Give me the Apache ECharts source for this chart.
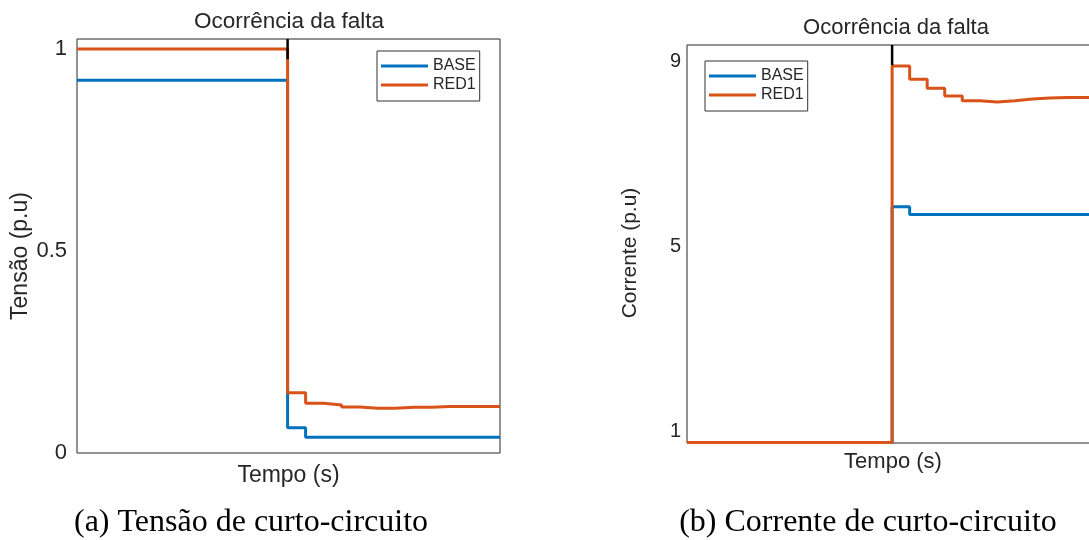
<!DOCTYPE html>
<html>
<head>
<meta charset="utf-8">
<script src="https://cdn.jsdelivr.net/npm/echarts@6/dist/echarts.min.js"></script>
<style>
html,body{margin:0;padding:0;background:#fff;overflow:hidden;}
#chart{width:1100px;height:540px;}
</style>
</head>
<body>
<div id="chart"></div>
<script>
// Sample times (ms); fault occurs at 234 ms
const timeMs = [0, 234, 254, 274, 294, 314, 334, 354, 374, 394, 414, 434, 454, 470];
// (a) Voltage (p.u)
const voltageBase = [0.923, 0.0625, 0.0388, 0.0388, 0.0388, 0.0388, 0.0388, 0.0388, 0.0388, 0.0388, 0.0388, 0.0388, 0.0388, 0.0388];
const voltageRed1 = [1.0, 0.149, 0.123, 0.119, 0.114, 0.111, 0.111, 0.1135, 0.1135, 0.115, 0.115, 0.115, 0.115, 0.115];
// (b) Current (p.u)
const currentBase = [0.77, 5.856, 5.69, 5.69, 5.69, 5.69, 5.69, 5.69, 5.69, 5.69, 5.69, 5.69, 5.69, 5.69];
const currentRed1 = [0.77, 8.89, 8.605, 8.41, 8.245, 8.143, 8.115, 8.143, 8.18, 8.20, 8.21, 8.21, 8.21, 8.21];
// Fault marker (short black segment at fault time, from axis top downward)
const faultTime = 234;
const faultMarkV = [1.025, 0.975];
const faultMarkI = [9.345, 8.91];
// Axis ranges and tick labels
const vRange = [0, 1.025];
const iRange = [0.76, 9.345];
const tRange = [0, 470];
const vTicks = [0, 0.5, 1];
const iTicks = [1, 5, 9];
const seriesNames = ['BASE', 'RED1'];
const titleText = 'Ocorrência da falta';
const captionA = '(a) Tensão de curto-circuito';
const captionB = '(b) Corrente de curto-circuito';

const BLUE = '#0072BD', ORANGE = '#D95319', TXT = '#262626';
const SANS = 'Liberation Sans, Arial, sans-serif';
const SERIF = 'Liberation Serif, Times New Roman, serif';

const pairs = (xs, ys) => xs.map((x, i) => [x, ys[i]]);

function xAxisCfg(idx, gap, fs) {
  return {
    gridIndex: idx, type: 'value', min: tRange[0], max: tRange[1],
    axisLine: {show: false}, axisTick: {show: false}, axisLabel: {show: false}, splitLine: {show: false},
    name: 'Tempo (s)', nameLocation: 'middle', nameGap: gap,
    nameTextStyle: {fontFamily: SANS, fontSize: fs, color: TXT}
  };
}
function yAxisCfg(idx, range, ticks, name, gap, fs, margin, shift) {
  return {
    gridIndex: idx, type: 'value', min: range[0], max: range[1],
    axisLine: {show: false}, axisTick: {show: false}, splitLine: {show: false},
    axisLabel: {customValues: ticks, fontFamily: SANS, fontSize: fs, color: TXT, margin: margin,
      showMinLabel: true, showMaxLabel: true},
    name: name, nameLocation: 'middle', nameGap: gap,
    nameTextStyle: {fontFamily: SANS, fontSize: fs + 1, color: TXT, padding: [0, shift, 0, 0]}
  };
}
function lineSeries(name, xi, data, color) {
  return {
    name: name, type: 'line', step: 'end', xAxisIndex: xi, yAxisIndex: xi,
    data: data, showSymbol: false, symbol: 'none', lineStyle: {width: 3, color: color},
    itemStyle: {color: color}, animation: false
  };
}
function markSeries(xi, ys) {
  return {
    name: 'falta', type: 'line', xAxisIndex: xi, yAxisIndex: xi,
    data: [[faultTime, ys[0]], [faultTime, ys[1]]], showSymbol: false, symbol: 'none',
    lineStyle: {width: 2.5, color: '#000'}, animation: false, z: 5
  };
}
function legendCfg(left, top) {
  return {
    data: seriesNames, left: left, top: top, orient: 'vertical',
    icon: 'rect', itemWidth: 47, itemHeight: 3, itemGap: 3,
    padding: [7, 4, 8, 4], backgroundColor: '#fff', borderColor: '#333', borderWidth: 1,
    textStyle: {fontFamily: SANS, fontSize: 16, lineHeight: 16, color: TXT}
  };
}

const chart = echarts.init(document.getElementById('chart'), null, {renderer: 'canvas', width: 1100, height: 540});
chart.setOption({
  animation: false,
  backgroundColor: '#fff',
  grid: [
    {left: 77, top: 39, width: 423, height: 414, show: true, borderColor: TXT, borderWidth: 1},
    {left: 687, top: 45, width: 412, height: 398, show: true, borderColor: TXT, borderWidth: 1}
  ],
  xAxis: [xAxisCfg(0, 11, 23), xAxisCfg(1, 8, 22)],
  yAxis: [
    yAxisCfg(0, vRange, vTicks, 'Tensão (p.u)', 43, 22, 10, 20),
    yAxisCfg(1, iRange, iTicks, 'Corrente (p.u)', 46, 20, 6, 18)
  ],
  legend: [legendCfg(377, 51), legendCfg(705, 61)],
  series: [
    lineSeries(seriesNames[0], 0, pairs(timeMs, voltageBase), BLUE),
    lineSeries(seriesNames[1], 0, pairs(timeMs, voltageRed1), ORANGE),
    markSeries(0, faultMarkV),
    lineSeries(seriesNames[0], 1, pairs(timeMs, currentBase), BLUE),
    lineSeries(seriesNames[1], 1, pairs(timeMs, currentRed1), ORANGE),
    markSeries(1, faultMarkI)
  ],
  graphic: [
    {type: 'text', x: 289, y: 22, style: {text: titleText, font: '22.5px ' + SANS, fill: TXT, textAlign: 'center', textVerticalAlign: 'middle'}},
    {type: 'text', x: 896, y: 28, style: {text: titleText, font: '22px ' + SANS, fill: TXT, textAlign: 'center', textVerticalAlign: 'middle'}},
    {type: 'text', x: 251, y: 523, style: {text: captionA, font: '32px ' + SERIF, fill: '#000', textAlign: 'center', textVerticalAlign: 'middle'}},
    {type: 'text', x: 868, y: 523, style: {text: captionB, font: '32px ' + SERIF, fill: '#000', textAlign: 'center', textVerticalAlign: 'middle'}}
  ]
});
</script>
</body>
</html>
